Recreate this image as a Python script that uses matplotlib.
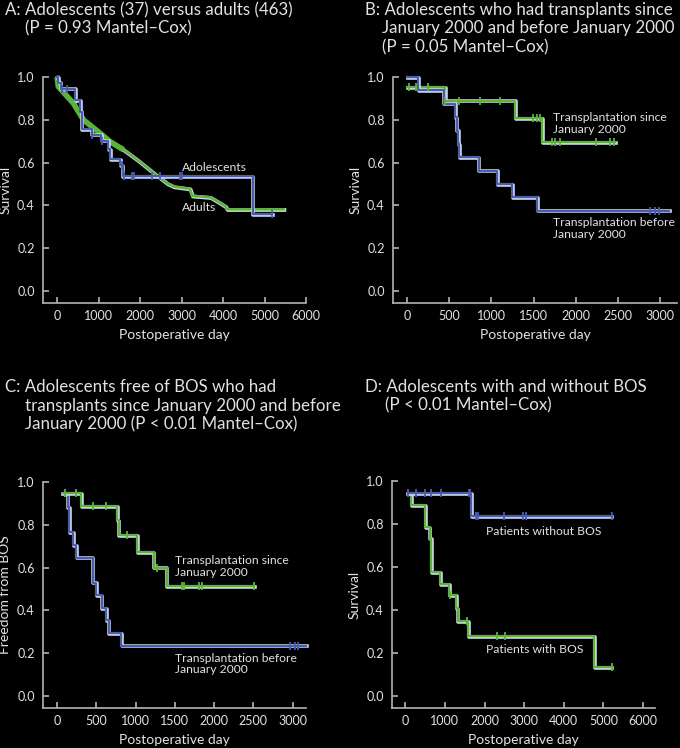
import numpy as np
import matplotlib
matplotlib.use('Agg')
import matplotlib.pyplot as plt
import matplotlib.patheffects as pe

plt.rcParams['font.family'] = ['Lato', 'DejaVu Sans']

BLUE = '#4a5cae'
GREEN = '#5ab43c'
FG = '#e2e2e2'
AX = '#b4b4b4'

# ---------------- data ----------------
# A: adolescents vs adults
a_adol_t = [0, 20, 89, 434, 554, 595, 836, 1060, 1237, 1277, 1518, 1583, 4715, 5180]
a_adol_s = [1.0, 0.973, 0.946, 0.892, 0.838, 0.757, 0.730, 0.703, 0.662, 0.615, 0.588, 0.537, 0.36, 0.36]
a_adol_cens = [120, 241, 843, 1084, 1566, 1606, 1807, 1847, 2289, 2490, 2972, 3012, 5180]
a_adult_t = [0, 30, 393, 634, 995, 1277, 1600, 1920, 2241, 2651, 2811, 3200, 3260, 3695, 3936, 4060, 4096, 5460]
a_adult_s = [1.0, 0.955, 0.877, 0.800, 0.744, 0.698, 0.660, 0.615, 0.565, 0.503, 0.488, 0.478, 0.445, 0.438, 0.410, 0.395, 0.382, 0.382]
a_adult_dense_end = 1900

# B: transplant since / before January 2000
b_before_t = [0, 130, 435, 573, 590, 605, 620, 850, 1067, 1245, 1541, 3103]
b_before_s = [1.0, 0.9375, 0.875, 0.8125, 0.75, 0.6875, 0.625, 0.5625, 0.5, 0.4375, 0.375, 0.375]
b_before_cens = [2885, 2945, 2984]
b_since_t = [0, 455, 1285, 1600, 2470]
b_since_s = [0.953, 0.889, 0.808, 0.694, 0.694]
b_since_cens = [20, 110, 245, 455, 613, 870, 1107, 1494, 1542, 1573, 1719, 1759, 1818, 2245, 2411, 2451]

# C: freedom from BOS
c_before_t = [100, 135, 157, 207, 242, 454, 496, 568, 627, 657, 814, 3170]
c_before_s = [0.941, 0.882, 0.765, 0.706, 0.647, 0.529, 0.471, 0.412, 0.353, 0.294, 0.235, 0.235]
c_before_cens = [2966, 3030, 3064]
c_since_t = [72, 305, 767, 785, 1022, 1229, 1398, 2513]
c_since_s = [0.947, 0.888, 0.822, 0.752, 0.673, 0.600, 0.514, 0.514]
c_since_cens = [102, 242, 462, 623, 887, 1271, 1589, 1619, 1814, 1843, 2513]

# D: with / without BOS
d_without_t = [68, 1664, 5210]
d_without_s = [0.944, 0.835, 0.835]
d_without_cens = [68, 277, 487, 647, 908, 1597, 1639, 1790, 1832, 2479, 2966, 3042, 5210]
d_with_t = [60, 150, 504, 612, 647, 882, 1108, 1290, 1320, 1580, 4765, 5210]
d_with_s = [0.944, 0.889, 0.784, 0.732, 0.575, 0.521, 0.468, 0.410, 0.348, 0.278, 0.135, 0.135]
d_with_cens = [1130, 1560, 2311, 2504, 5210]

titles = {
    'A': [('A: Adolescents (37) versus adults (463)', 5), ('(P = 0.93 Mantel\u2013Cox)', 25)],
    'B': [('B: Adolescents who had transplants since', 365), ('January 2000 and before January 2000', 382),
          ('(P = 0.05 Mantel\u2013Cox)', 382)],
    'C': [('C: Adolescents free of BOS who had', 5), ('transplants since January 2000 and before', 25),
          ('January 2000 (P < 0.01 Mantel\u2013Cox)', 25)],
    'D': [('D: Adolescents with and without BOS', 365), ('(P < 0.01 Mantel\u2013Cox)', 385)],
}

W, H = 680, 748
fig = plt.figure(figsize=(W / 100, H / 100), dpi=100, facecolor='black')


def km_at(t, times, surv):
    idx = np.searchsorted(times, t, side='right') - 1
    return np.asarray(surv)[np.clip(idx, 0, len(surv) - 1)]


def edge(lw):
    return [pe.Stroke(linewidth=lw + 1.0, foreground='#cfd6e6', offset=(0.5, -0.5)), pe.Normal()]


def km(ax, times, surv, cens, color, lw=1.6, step=True):
    if step:
        ax.step(times, surv, where='post', color=color, lw=lw, path_effects=edge(lw), clip_on=False, zorder=3)
    else:
        ax.plot(times, surv, color=color, lw=lw, path_effects=edge(lw), clip_on=False, zorder=3)
    if cens:
        ax.plot(cens, km_at(cens, times, surv), ls='none', marker='|', ms=6, mew=1.3,
                color=color, clip_on=False, zorder=4)


def make_axes(px_left, px_right, px_top, px_bottom, xlim, xticks, ylabel):
    ax = fig.add_axes([px_left / W, 1 - px_bottom / H, (px_right - px_left) / W, (px_bottom - px_top) / H])
    ax.set_facecolor('black')
    ax.set_xlim(*xlim)
    ax.set_ylim(-0.056, 1.0)
    ax.set_xticks(xticks)
    ax.set_yticks(np.arange(0, 1.01, 0.2))
    ax.set_yticklabels(['%.1f' % v for v in np.arange(0, 1.01, 0.2)])
    for s in ['top', 'right']:
        ax.spines[s].set_visible(False)
    for s in ['left', 'bottom']:
        ax.spines[s].set_color(AX)
        ax.spines[s].set_linewidth(1.2)
    ax.tick_params(direction='in', length=4, width=1.2, color=AX, labelcolor=FG, labelsize=9)
    ax.tick_params(axis='y', pad=6)
    ax.tick_params(axis='x', pad=5)
    ax.set_xlabel('Postoperative day', color=FG, fontsize=10, labelpad=5)
    ax.set_ylabel(ylabel, color=FG, fontsize=10, labelpad=4)
    return ax


# ---------------- panel A ----------------
ax = make_axes(43, 306, 77, 303, (-340, 6000), range(0, 6001, 1000), 'Survival')
km(ax, a_adult_t, a_adult_s, None, GREEN, lw=1.8, step=False)
dense = np.array(a_adult_t) <= a_adult_dense_end
ax.plot(np.array(a_adult_t)[dense], np.array(a_adult_s)[dense], color=GREEN, lw=4.0, zorder=3,
        solid_capstyle='butt', clip_on=False)
km(ax, a_adol_t, a_adol_s, a_adol_cens, BLUE)
ax.text(3012, 0.575, 'Adolescents', color=FG, fontsize=8.7, va='center')
ax.text(3012, 0.388, 'Adults', color=FG, fontsize=8.7, va='center')

# ---------------- panel B ----------------
ax = make_axes(393, 677, 77, 303, (-166, 3200), range(0, 3001, 500), 'Survival')
km(ax, b_since_t, b_since_s, b_since_cens, GREEN)
km(ax, b_before_t, b_before_s, b_before_cens, BLUE)
ax.text(1730, 0.783, 'Transplantation since\nJanuary 2000', color=FG, fontsize=8.7, va='center', linespacing=1.05)
ax.text(1730, 0.292, 'Transplantation before\nJanuary 2000', color=FG, fontsize=8.7, va='center', linespacing=1.05)

# ---------------- panel C ----------------
ax = make_axes(43, 306, 482, 708, (-178, 3170), range(0, 3001, 500), 'Freedom from BOS')
km(ax, c_before_t, c_before_s, c_before_cens, BLUE)
km(ax, c_since_t, c_since_s, c_since_cens, GREEN)
ax.text(1501, 0.605, 'Transplantation since\nJanuary 2000', color=FG, fontsize=8.7, va='center', linespacing=1.05)
ax.text(1501, 0.150, 'Transplantation before\nJanuary 2000', color=FG, fontsize=8.7, va='center', linespacing=1.05)

# ---------------- panel D ----------------
ax = make_axes(392, 655, 481, 708, (-335, 6300), range(0, 6001, 1000), 'Survival')
km(ax, d_with_t, d_with_s, d_with_cens, GREEN)
km(ax, d_without_t, d_without_s, d_without_cens, BLUE)
ax.text(2040, 0.766, 'Patients without BOS', color=FG, fontsize=8.7, va='center')
ax.text(2040, 0.215, 'Patients with BOS', color=FG, fontsize=8.7, va='center')

# ---------------- titles ----------------
title_top = {'A': 10, 'B': 10, 'C': 387, 'D': 387}
for key, lines in titles.items():
    for i, (txt, xpx) in enumerate(lines):
        fig.text(xpx / W, 1 - (title_top[key] + 18.5 * i) / H, txt, color=FG, fontsize=12.2,
                 va='center', ha='left')

fig.savefig('out.png', dpi=100, facecolor='black')
